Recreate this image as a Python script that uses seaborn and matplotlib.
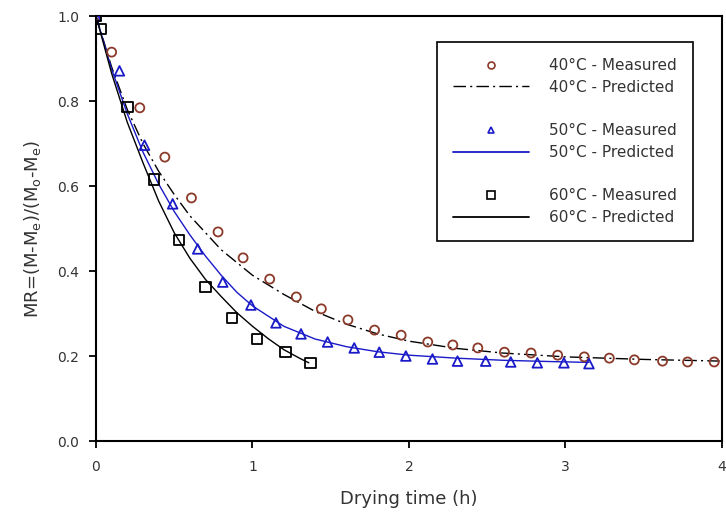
import matplotlib
matplotlib.use("Agg")
import matplotlib.pyplot as plt
import seaborn as sns
from matplotlib.lines import Line2D

# Measured data
t40 = [0, 0.10, 0.28, 0.44, 0.61, 0.78, 0.94, 1.11, 1.28, 1.44, 1.61, 1.78, 1.95,
       2.12, 2.28, 2.44, 2.61, 2.78, 2.95, 3.12, 3.28, 3.44, 3.62, 3.78, 3.95]
mr40 = [1.0, 0.915, 0.784, 0.668, 0.572, 0.492, 0.431, 0.381, 0.339, 0.311, 0.285, 0.261, 0.249,
        0.233, 0.226, 0.219, 0.209, 0.207, 0.202, 0.198, 0.195, 0.191, 0.188, 0.186, 0.186]

t50 = [0, 0.15, 0.31, 0.49, 0.65, 0.81, 0.99, 1.15, 1.31, 1.48, 1.65, 1.81, 1.98,
       2.15, 2.31, 2.49, 2.65, 2.82, 2.99, 3.15]
mr50 = [1.0, 0.871, 0.696, 0.558, 0.452, 0.374, 0.320, 0.278, 0.252, 0.233, 0.219, 0.209, 0.200,
        0.193, 0.188, 0.188, 0.186, 0.184, 0.184, 0.182]

t60 = [0, 0.03, 0.20, 0.37, 0.53, 0.70, 0.87, 1.03, 1.21, 1.37]
mr60 = [1.0, 0.969, 0.786, 0.616, 0.473, 0.362, 0.289, 0.240, 0.209, 0.184]

# Predicted curves
tp40 = [0, 0.1, 0.2, 0.3, 0.4, 0.5, 0.6, 0.8, 1.0, 1.2, 1.4, 1.6, 1.8, 2.0, 2.3, 2.6, 3.0, 3.5, 4.0]
mp40 = [1.0, 0.88, 0.78, 0.70, 0.635, 0.58, 0.53, 0.45, 0.39, 0.345, 0.305, 0.275, 0.252, 0.235,
        0.218, 0.207, 0.198, 0.192, 0.188]

tp50 = [0, 0.1, 0.2, 0.3, 0.4, 0.5, 0.6, 0.7, 0.8, 0.9, 1.0, 1.2, 1.4, 1.6, 1.8, 2.0,
        2.3, 2.6, 2.9, 3.15]
mp50 = [1.0, 0.875, 0.77, 0.68, 0.605, 0.54, 0.485, 0.435, 0.39, 0.35, 0.318, 0.27, 0.24,
        0.222, 0.21, 0.202, 0.195, 0.19, 0.187, 0.185]

tp60 = [0, 0.1, 0.2, 0.3, 0.4, 0.5, 0.6, 0.7, 0.8, 0.9, 1.0, 1.1, 1.2, 1.3, 1.36]
mp60 = [1.0, 0.865, 0.75, 0.655, 0.565, 0.49, 0.43, 0.38, 0.34, 0.302, 0.27, 0.241, 0.215,
        0.195, 0.184]

labels = ["40°C - Measured", "40°C - Predicted", "50°C - Measured",
          "50°C - Predicted", "60°C - Measured", "60°C - Predicted"]
xticks = [0, 1, 2, 3, 4]
yticks = [0.0, 0.2, 0.4, 0.6, 0.8, 1.0]

sns.set_style("ticks")
plt.rcParams['font.family'] = ['DejaVu Sans']
plt.rcParams['mathtext.fontset'] = 'dejavusans'

fig = plt.figure(figsize=(7.26, 5.18), dpi=100)
ax = fig.add_axes([0.1322, 0.1486, 0.8623, 0.8205])

c40 = "#8B3A2A"
c50 = "#1A1AC8"
c60 = "#000000"
dashdot = [9, 3, 1.5, 3]

sns.lineplot(x=tp40, y=mp40, ax=ax, color="black", lw=1.0, sort=False)
ax.lines[-1].set_dashes(dashdot)
sns.lineplot(x=tp50, y=mp50, ax=ax, color=c50, lw=1.0, sort=False)
sns.lineplot(x=tp60, y=mp60, ax=ax, color=c60, lw=1.0, sort=False)

sns.scatterplot(x=t40, y=mr40, ax=ax, marker="o", s=42, facecolor="none",
                edgecolor=c40, linewidth=1.3, zorder=5)
sns.scatterplot(x=t50, y=mr50, ax=ax, marker="^", s=48, facecolor="none",
                edgecolor=c50, linewidth=1.3, zorder=5)
sns.scatterplot(x=t60, y=mr60, ax=ax, marker="s", s=58, facecolor="none",
                edgecolor=c60, linewidth=1.3, zorder=5)

ax.set_xlim(0, 4)
ax.set_ylim(0, 1.0)
ax.set_xticks(xticks)
ax.set_xticklabels([str(v) for v in xticks])
ax.set_yticks(yticks)
ax.set_yticklabels([f"{v:.1f}" for v in yticks])
ax.tick_params(direction="out", length=5, width=1.3, labelsize=10, colors="black",
               labelcolor="#333333")
ax.tick_params(axis="x", pad=9)
ax.tick_params(axis="y", pad=7)
for sp in ax.spines.values():
    sp.set_visible(True)
    sp.set_linewidth(1.5)
    sp.set_color("black")

ax.set_xlabel("Drying time (h)", fontsize=13, labelpad=11, color="#333333")
ax.set_ylabel("MR=(M-M$_\\mathregular{e}$)/(M$_\\mathregular{o}$-M$_\\mathregular{e}$)",
              fontsize=13, labelpad=10, color="#333333")

blank = Line2D([], [], linestyle="none", marker=None)
handles = [
    Line2D([], [], linestyle="none", marker="o", markersize=5, mfc="none", mec=c40, mew=1.2),
    Line2D([], [], color="black", lw=1.0, dashes=dashdot),
    blank,
    Line2D([], [], linestyle="none", marker="^", markersize=5, mfc="none", mec=c50, mew=1.2),
    Line2D([], [], color=c50, lw=1.3),
    blank,
    Line2D([], [], linestyle="none", marker="s", markersize=6, mfc="none", mec=c60, mew=1.2),
    Line2D([], [], color=c60, lw=1.3),
]
leg_labels = [labels[0], labels[1], "", labels[2], labels[3], "", labels[4], labels[5]]
leg = ax.legend(handles, leg_labels, loc="upper right", bbox_to_anchor=(0.954, 0.939),
                frameon=True, fancybox=False, fontsize=11, handlelength=5.0,
                handletextpad=1.3, labelspacing=0.44, borderpad=1.05, borderaxespad=0)
leg.get_frame().set_edgecolor("black")
leg.get_frame().set_linewidth(1.2)
leg.get_frame().set_alpha(1)
for txt in leg.get_texts():
    txt.set_color("#333333")

fig.savefig("out.png", dpi=100)
